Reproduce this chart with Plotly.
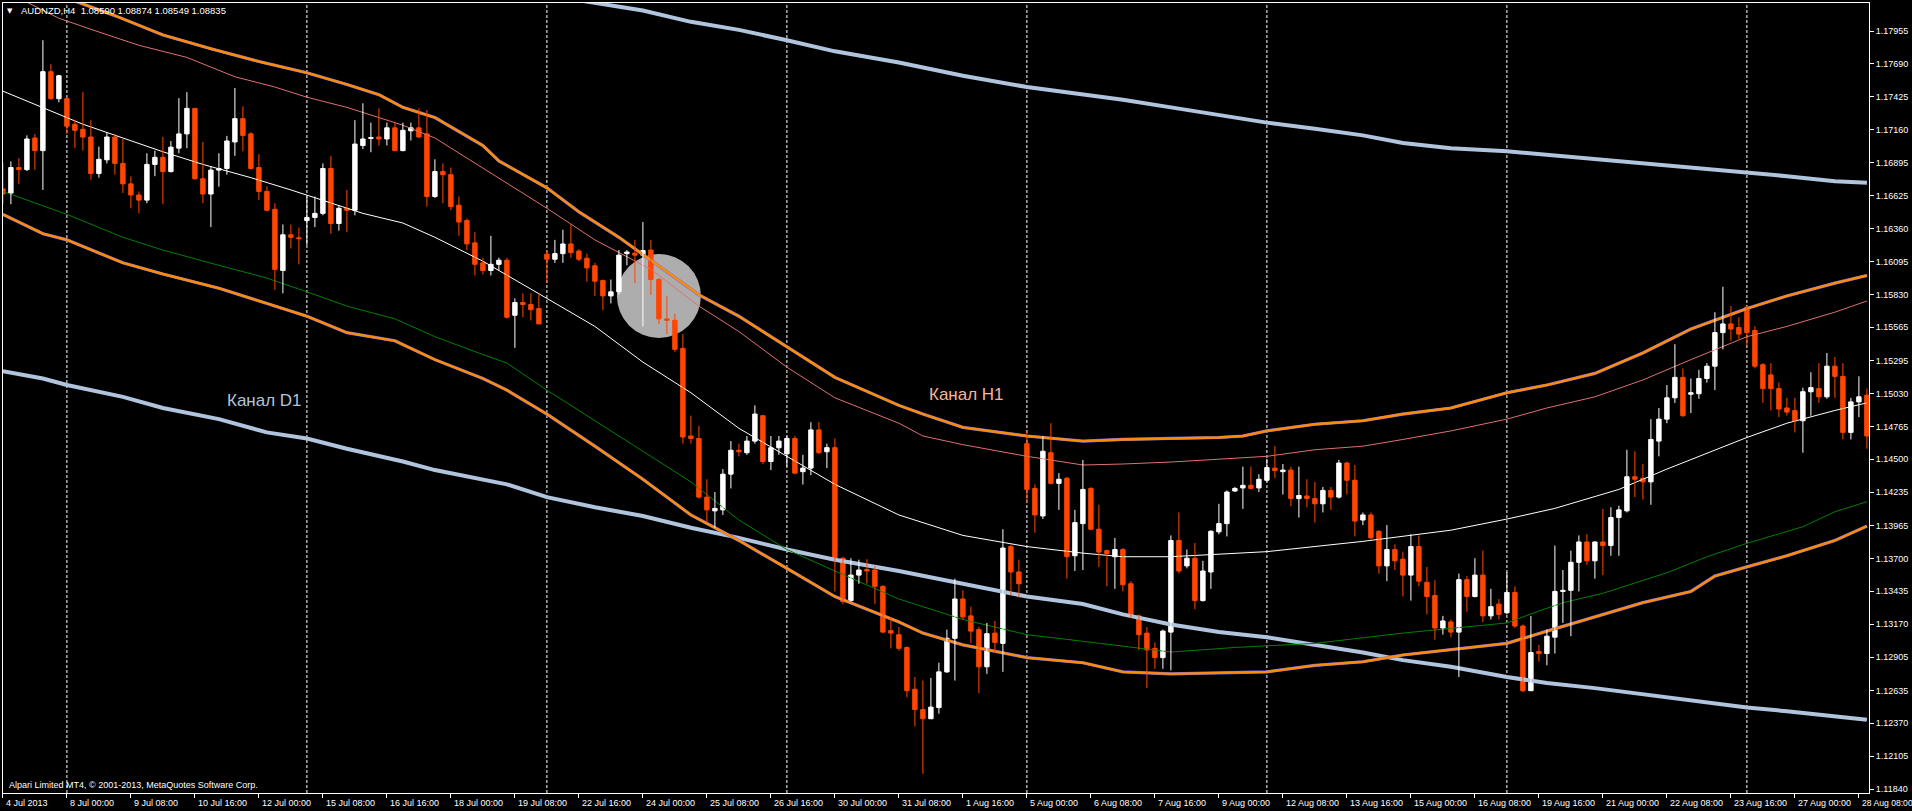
import plotly.graph_objects as go
from datetime import datetime, timedelta

# ---------------- data (AUDNZD, H4) ----------------
opens = [1.16681,1.16648,1.16854,1.16837,1.17092,1.16990,1.17627,1.17409,1.17409,1.17203,
1.17162,1.17100,1.16805,1.16916,1.17100,1.16887,1.16722,1.16632,1.16591,1.16879,
1.16936,1.16821,1.17010,1.17125,1.17331,1.16763,1.16640,1.16833,1.16846,1.17060,
1.17248,1.17125,1.16854,1.16661,1.16517,1.16023,1.16311,1.16287,1.16426,1.16451,
1.16484,1.16846,1.16402,1.16525,1.16509,1.17031,1.17088,1.17100,1.17084,1.17174,
1.16990,1.17150,1.17174,1.17125,1.16620,1.16821,1.16796,1.16550,1.16426,1.16246,
1.16085,1.16023,1.16073,1.16106,1.15662,1.15765,1.15749,1.15716,1.16155,1.16114,
1.16159,1.16237,1.16180,1.16122,1.16061,1.15942,1.15818,1.15851,1.16159,1.16163,
1.16147,1.16188,1.15950,1.15633,1.15621,1.15395,1.14688,1.14668,1.14195,1.14084,
1.14092,1.14380,1.14573,1.14553,1.14647,1.14852,1.14482,1.14593,1.14544,1.14668,
1.14400,1.14429,1.14737,1.14561,1.14594,1.13702,1.13360,1.13566,1.13611,1.13607,
1.13475,1.13118,1.13085,1.12982,1.12645,1.12481,1.12407,1.12497,1.12785,1.13056,
1.13373,1.13237,1.13126,1.12826,1.13098,1.13015,1.13796,1.13591,1.14626,1.14265,
1.14043,1.14553,1.14306,1.14347,1.13722,1.13981,1.14265,1.13936,1.13763,1.13714,
1.13772,1.13496,1.13237,1.13098,1.12975,1.12900,1.13106,1.13845,1.13640,1.13702,
1.13360,1.13591,1.13915,1.13981,1.14244,1.14269,1.14290,1.14269,1.14331,1.14429,
1.14400,1.14413,1.14183,1.14204,1.14183,1.14141,1.14249,1.14195,1.14470,1.14331,
1.14010,1.14051,1.13919,1.13640,1.13772,1.13694,1.13566,1.13796,1.13508,1.13402,
1.13139,1.13188,1.13106,1.13529,1.13393,1.13566,1.13237,1.13332,1.13262,1.13426,
1.13155,1.12633,1.12950,1.12933,1.13065,1.13434,1.13443,1.13669,1.13833,1.13681,
1.13833,1.13804,1.14030,1.14084,1.14359,1.14347,1.14318,1.14647,1.14824,1.14996,
1.15161,1.15025,1.15029,1.15152,1.15251,1.15522,1.15592,1.15563,1.15728,1.15539,
1.15263,1.15181,1.15070,1.14914,1.14893,1.14811,1.15045,1.15070,1.15004,1.15251,
1.15169,1.14717,1.14963,1.15017]
highs = [1.16895,1.16903,1.16928,1.17113,1.17125,1.17881,1.17688,1.17602,1.17421,1.17236,
1.17462,1.17236,1.17022,1.17140,1.17125,1.17084,1.16784,1.16661,1.16969,1.16990,
1.17100,1.17067,1.17413,1.17462,1.17331,1.17060,1.16866,1.16969,1.17109,1.17495,
1.17347,1.17140,1.16961,1.16702,1.16566,1.16394,1.16394,1.16369,1.16620,1.16620,
1.16887,1.16948,1.16550,1.16673,1.17236,1.17372,1.17216,1.17331,1.17216,1.17224,
1.17216,1.17216,1.17331,1.17318,1.16920,1.16887,1.16854,1.16620,1.16443,1.16332,
1.16126,1.16303,1.16126,1.16126,1.15798,1.15839,1.15839,1.15839,1.16188,1.16270,
1.16352,1.16394,1.16196,1.16159,1.16085,1.15950,1.15950,1.16188,1.16188,1.16270,
1.16414,1.16270,1.15962,1.15818,1.15674,1.15510,1.14852,1.14770,1.14339,1.14236,
1.14421,1.14647,1.14626,1.14688,1.14935,1.14852,1.14688,1.14688,1.14688,1.14688,
1.14536,1.14799,1.14799,1.14626,1.14668,1.13714,1.13702,1.13690,1.13694,1.13640,
1.13483,1.13229,1.13147,1.12990,1.12744,1.12715,1.12736,1.12859,1.13126,1.13537,
1.13443,1.13311,1.13147,1.13180,1.13196,1.13936,1.13813,1.13690,1.14729,1.14298,
1.14688,1.14791,1.14388,1.14359,1.14092,1.14495,1.14277,1.14133,1.13772,1.13866,
1.13784,1.13517,1.13249,1.13147,1.13023,1.13126,1.13886,1.14072,1.13772,1.13825,
1.13681,1.13928,1.14141,1.14249,1.14277,1.14441,1.14441,1.14380,1.14503,1.14606,
1.14462,1.14441,1.14441,1.14339,1.14318,1.14277,1.14277,1.14495,1.14482,1.14454,
1.14071,1.14071,1.13928,1.13969,1.13813,1.13755,1.13895,1.13886,1.13632,1.13525,
1.13237,1.13208,1.13578,1.13558,1.13702,1.13763,1.13455,1.13373,1.13591,1.13475,
1.13167,1.13237,1.13003,1.13126,1.13804,1.13607,1.13763,1.13886,1.13895,1.13838,
1.14100,1.14113,1.14125,1.14577,1.14565,1.14462,1.14824,1.14914,1.15099,1.15428,
1.15234,1.15152,1.15222,1.15276,1.15687,1.15892,1.15736,1.15646,1.15736,1.15572,
1.15276,1.15276,1.15119,1.14996,1.14996,1.15078,1.15202,1.15276,1.15358,1.15325,
1.15276,1.14996,1.15169,1.15070]
lows = [1.16558,1.16558,1.16722,1.16825,1.16837,1.16673,1.17401,1.17380,1.17125,1.17010,
1.16990,1.16755,1.16772,1.16887,1.16796,1.16648,1.16525,1.16484,1.16566,1.16784,
1.16558,1.16813,1.16969,1.17010,1.16755,1.16566,1.16373,1.16699,1.16796,1.16948,
1.16985,1.16837,1.16591,1.16500,1.15867,1.15839,1.16200,1.16073,1.16229,1.16373,
1.16468,1.16320,1.16344,1.16332,1.16468,1.17002,1.16977,1.17031,1.17031,1.16985,
1.16985,1.17072,1.17092,1.16538,1.16608,1.16566,1.16509,1.16303,1.16188,1.15983,
1.15991,1.15983,1.16023,1.15634,1.15399,1.15646,1.15621,1.15592,1.15921,1.16085,
1.16085,1.16126,1.16097,1.15933,1.15818,1.15703,1.15757,1.15827,1.16065,1.15921,
1.15572,1.15827,1.15592,1.15510,1.15366,1.14626,1.14626,1.14183,1.13989,1.13948,
1.14051,1.14265,1.14524,1.14536,1.14626,1.14462,1.14413,1.14536,1.14441,1.14380,
1.14297,1.14372,1.14544,1.14429,1.13434,1.13332,1.13352,1.13496,1.13496,1.13332,
1.13098,1.12975,1.12955,1.12580,1.12345,1.11963,1.12407,1.12448,1.12777,1.12715,
1.13208,1.13016,1.12613,1.12769,1.12941,1.12785,1.13402,1.13385,1.14154,1.13907,
1.14018,1.14298,1.14092,1.13537,1.13599,1.13607,1.13928,1.13632,1.13476,1.13455,
1.13434,1.13221,1.12962,1.12654,1.12810,1.12810,1.12797,1.13578,1.13620,1.13290,
1.13352,1.13455,1.13895,1.13878,1.14236,1.14100,1.14257,1.14236,1.14318,1.14347,
1.14216,1.14121,1.14030,1.14113,1.13989,1.14071,1.14092,1.14183,1.14216,1.13878,
1.13969,1.13854,1.13578,1.13517,1.13607,1.13393,1.13360,1.13476,1.13249,1.13044,
1.13085,1.13065,1.12744,1.13270,1.13385,1.13188,1.13208,1.13208,1.13249,1.13139,
1.12621,1.12633,1.12868,1.12838,1.12933,1.13180,1.13073,1.13434,1.13649,1.13537,
1.13566,1.13722,1.13722,1.14071,1.14195,1.14174,1.14133,1.14524,1.14791,1.14955,
1.14840,1.14873,1.14988,1.15119,1.15058,1.15387,1.15456,1.15469,1.15415,1.15234,
1.14955,1.14894,1.14840,1.14852,1.14717,1.14553,1.14852,1.14955,1.14988,1.14996,
1.14660,1.14660,1.14840,1.14585]
closes = [1.16640,1.16854,1.16837,1.17084,1.16990,1.17627,1.17409,1.17594,1.17187,1.17154,
1.17100,1.16805,1.16920,1.17100,1.16887,1.16722,1.16632,1.16591,1.16879,1.16936,
1.16821,1.17018,1.17125,1.17331,1.16763,1.16640,1.16833,1.16846,1.17068,1.17248,
1.17113,1.16846,1.16661,1.16509,1.16032,1.16311,1.16291,1.16279,1.16451,1.16484,
1.16846,1.16402,1.16525,1.16509,1.17043,1.17084,1.17096,1.17084,1.17174,1.16990,
1.17154,1.17174,1.17100,1.16620,1.16821,1.16796,1.16538,1.16414,1.16238,1.16073,
1.16023,1.16073,1.16106,1.15646,1.15765,1.15749,1.15707,1.15592,1.16114,1.16159,
1.16237,1.16167,1.16114,1.16044,1.15937,1.15818,1.15851,1.16147,1.16172,1.16147,
1.16184,1.15950,1.15633,1.15621,1.15387,1.14680,1.14668,1.14195,1.14092,1.14104,
1.14380,1.14573,1.14561,1.14647,1.14865,1.14482,1.14593,1.14647,1.14668,1.14388,
1.14429,1.14737,1.14553,1.14594,1.13702,1.13352,1.13566,1.13607,1.13599,1.13475,
1.13106,1.13098,1.12975,1.12633,1.12481,1.12407,1.12501,1.12785,1.13056,1.13373,
1.13229,1.13114,1.12826,1.13093,1.13023,1.13784,1.13591,1.13496,1.14257,1.14051,
1.14565,1.14306,1.14339,1.13714,1.13989,1.14257,1.13936,1.13751,1.13739,1.13772,
1.13488,1.13229,1.13085,1.12962,1.12900,1.13114,1.13845,1.13599,1.13702,1.13360,
1.13599,1.13919,1.13981,1.14236,1.14265,1.14290,1.14265,1.14339,1.14433,1.14409,
1.14413,1.14183,1.14208,1.14183,1.14141,1.14249,1.14195,1.14470,1.14331,1.14002,
1.14051,1.13866,1.13640,1.13772,1.13681,1.13566,1.13796,1.13517,1.13393,1.13139,
1.13196,1.13106,1.13529,1.13393,1.13566,1.13237,1.13311,1.13249,1.13426,1.13155,
1.12633,1.12941,1.12933,1.13073,1.13434,1.13443,1.13669,1.13833,1.13681,1.13833,
1.13804,1.14030,1.14092,1.14359,1.14339,1.14318,1.14660,1.14824,1.14996,1.15161,
1.14852,1.15037,1.15152,1.15251,1.15522,1.15592,1.15551,1.15510,1.15522,1.15251,
1.15070,1.15070,1.14906,1.14881,1.14811,1.15045,1.15078,1.15004,1.15251,1.15169,
1.14717,1.14963,1.15004,1.14688]

first_bar = datetime(2013, 7, 4, 16, 0)   # H4 bars, weekdays only

# Channel lines (bar index, price)
d1_upper_bar = [0,74,80,86,92,98,104,112,120,128,135,140,146,152,158,164,170,175,181,188,193,199,205,211,218,223,229,233]
d1_upper = [1.18950,1.18181,1.18120,1.18029,1.17964,1.17881,1.17791,1.17701,1.17594,1.17503,1.17442,1.17401,1.17339,1.17277,
            1.17216,1.17166,1.17113,1.17051,1.17010,1.16985,1.16957,1.16920,1.16887,1.16854,1.16813,1.16784,1.16743,1.16731]
d1_lower_bar = [0,5,8,15,20,27,33,38,43,50,54,60,63,68,74,80,86,92,98,104,112,120,128,135,140,146,152,158,164,170,175,181,188,193,199,205,211,218,223,229,233]
d1_lower = [1.15210,1.15152,1.15099,1.15004,1.14914,1.14824,1.14717,1.14668,1.14585,1.14482,1.14413,1.14339,1.14298,1.14195,
            1.14113,1.14043,1.13948,1.13866,1.13772,1.13690,1.13599,1.13496,1.13393,1.13332,1.13249,1.13167,1.13106,1.13065,
            1.13003,1.12941,1.12880,1.12826,1.12744,1.12695,1.12654,1.12604,1.12551,1.12497,1.12468,1.12427,1.12398]
h1_upper_bar = [0,14,20,26,32,38,43,47,50,54,60,62,68,72,77,81,87,92,98,104,112,115,120,128,135,140,146,152,155,158,164,170,175,181,188,193,199,205,211,218,223,229,233]
h1_upper = [1.18408,1.18079,1.17923,1.17812,1.17709,1.17618,1.17524,1.17442,1.17339,1.17257,1.17031,1.16907,1.16690,1.16496,
            1.16291,1.16106,1.15827,1.15654,1.15407,1.15161,1.14935,1.14865,1.14758,1.14688,1.14647,1.14660,1.14668,1.14676,
            1.14688,1.14729,1.14783,1.14811,1.14865,1.14914,1.15037,1.15099,1.15193,1.15358,1.15551,1.15716,1.15818,1.15921,1.15983]
h1_inner_up_bar = [0,7,12,17,23,29,34,38,43,50,54,60,68,74,81,87,92,98,104,112,115,120,128,135,140,146,158,164,170,175,181,188,193,199,205,211,218,223,229,233]
h1_inner_up = [1.18284,1.18058,1.17947,1.17840,1.17742,1.17586,1.17503,1.17421,1.17339,1.17195,1.17092,1.16846,1.16525,1.16270,
               1.16032,1.15736,1.15531,1.15243,1.14996,1.14791,1.14688,1.14618,1.14524,1.14454,1.14462,1.14478,1.14524,1.14577,
               1.14606,1.14660,1.14729,1.14824,1.14914,1.15004,1.15140,1.15304,1.15489,1.15572,1.15687,1.15777]
h1_mid_bar = [0,5,10,15,20,25,31,36,41,45,50,54,60,63,68,74,80,86,92,98,104,112,120,128,135,140,146,158,170,181,188,194,202,208,214,218,223,229,233]
h1_mid = [1.17470,1.17339,1.17203,1.17092,1.16981,1.16879,1.16772,1.16673,1.16566,1.16484,1.16406,1.16291,1.16098,1.15983,
          1.15798,1.15572,1.15284,1.15037,1.14750,1.14524,1.14298,1.14051,1.13886,1.13796,1.13743,1.13714,1.13714,1.13755,
          1.13838,1.13928,1.14018,1.14104,1.14257,1.14421,1.14577,1.14676,1.14791,1.14894,1.14955]
h1_inner_dn_bar = [0,8,15,20,27,33,38,43,49,54,60,63,68,74,80,86,92,98,104,112,120,128,135,140,146,154,164,175,188,192,195,200,204,208,213,218,225,229,233]
h1_inner_dn = [1.16661,1.16476,1.16291,1.16188,1.16065,1.15962,1.15851,1.15736,1.15633,1.15489,1.15345,1.15276,1.15058,1.14811,
               1.14565,1.14318,1.14010,1.13772,1.13599,1.13373,1.13208,1.13085,1.13032,1.12990,1.12945,1.12982,1.13015,1.13098,
               1.13180,1.13276,1.13343,1.13419,1.13500,1.13585,1.13714,1.13822,1.13956,1.14077,1.14158]
h1_lower_bar = [0,5,8,15,20,27,33,38,43,49,54,60,63,68,74,80,86,92,98,104,112,115,120,128,135,140,146,152,158,164,170,175,181,188,193,199,205,211,214,218,223,229,233]
h1_lower = [1.16476,1.16320,1.16270,1.16085,1.15995,1.15880,1.15757,1.15654,1.15522,1.15456,1.15304,1.15152,1.15058,1.14865,
            1.14606,1.14339,1.14051,1.13845,1.13620,1.13393,1.13188,1.13098,1.13003,1.12900,1.12859,1.12785,1.12769,1.12777,
            1.12785,1.12838,1.12867,1.12921,1.12962,1.13015,1.13114,1.13229,1.13344,1.13434,1.13558,1.13632,1.13722,1.13845,1.13961]

price_ticks = ["1.17955","1.17690","1.17425","1.17160","1.16895","1.16625","1.16360","1.16095","1.15830","1.15565",
               "1.15295","1.15030","1.14765","1.14500","1.14235","1.13965","1.13700","1.13435","1.13170","1.12905",
               "1.12635","1.12370","1.12105","1.11840"]

title_text = "AUDNZD,H4  1.08590 1.08874 1.08549 1.08835"
copyright_text = "Alpari Limited MT4, \u00a9 2001-2013, MetaQuotes Software Corp."

# ---------------- derived ----------------
n = len(opens)
times = []
t = first_bar
while len(times) < n:
    if t.weekday() < 5:
        times.append(t)
    t += timedelta(hours=4)

tick_bars = list(range(0, n, 8))
tick_labels = []
for b in tick_bars:
    tt = times[b]
    if b == 0:
        tick_labels.append(f"{tt.day} {tt:%b %Y}")
    else:
        tick_labels.append(f"{tt.day} {tt:%b %H:%M}")
week_bars = [i for i, tt in enumerate(times) if tt.weekday() == 0 and tt.hour == 0]

FONT = "Liberation Sans, Arial, sans-serif"
BULL = "#ffffff"
BEAR = "#ff4500"
X_RANGE = [0.0125, 233.2625]

fig = go.Figure()

def add_line(xs, ys, color, width):
    fig.add_trace(go.Scatter(x=xs, y=ys, mode="lines", line=dict(color=color, width=width),
                             hoverinfo="skip", showlegend=False))

add_line(d1_upper_bar, d1_upper, "#b0c4de", 4)
add_line(d1_lower_bar, d1_lower, "#b0c4de", 4)
add_line(h1_inner_dn_bar, h1_inner_dn, "#008000", 1)
add_line(h1_inner_up_bar, h1_inner_up, "#e07070", 1)
add_line(h1_mid_bar, h1_mid, "#ffffff", 1)
for xs, ys in ((h1_upper_bar, h1_upper), (h1_lower_bar, h1_lower)):
    add_line(xs, ys, "#7b68ee", 3.2)
    add_line(xs, ys, "#ff8c00", 2.4)

# candles
for is_bull, col in ((True, BULL), (False, BEAR)):
    idx = [i for i in range(n) if (closes[i] >= opens[i]) == is_bull]
    wx, wy = [], []
    for i in idx:
        wx += [i, i, None]
        wy += [lows[i], highs[i], None]
    fig.add_trace(go.Scatter(x=wx, y=wy, mode="lines", line=dict(color=col, width=1),
                             hoverinfo="skip", showlegend=False))
    fig.add_trace(go.Bar(
        x=idx,
        base=[min(opens[i], closes[i]) for i in idx],
        y=[max(abs(closes[i] - opens[i]), 0.00002) for i in idx],
        width=0.55,
        marker=dict(color=col, line=dict(color=col, width=1)),
        hoverinfo="skip", showlegend=False))

shapes = []
for b in week_bars:
    shapes.append(dict(type="line", xref="x", yref="paper", x0=b, x1=b, y0=0, y1=1,
                       line=dict(color="#ffffff", width=1, dash="3px,2px"), layer="below"))
shapes.append(dict(type="circle", xref="x", yref="y", xsizemode="pixel", ysizemode="pixel",
                   xanchor=82.0, yanchor=1.15817, x0=-42, x1=42, y0=-42, y1=42,
                   fillcolor="#adadad", line=dict(width=0), layer="below"))

annotations = []
span = X_RANGE[1] - X_RANGE[0]
for b, lab in zip(tick_bars, tick_labels):
    annotations.append(dict(x=(b - X_RANGE[0]) / span, y=0, xref="paper", yref="paper",
                            yshift=-10, xshift=1,
                            text=lab, showarrow=False, xanchor="left", yanchor="middle",
                            font=dict(family=FONT, size=9 if b < tick_bars[-1] else 8.6, color="#ffffff")))
annotations += [
    dict(x=0.0037, y=0.9905, xref="paper", yref="paper", text="\u25bc", showarrow=False,
         xanchor="center", yanchor="middle", font=dict(family="DejaVu Sans", size=7, color="#ffffff")),
    dict(x=0.0086, y=0.9905, xref="paper", yref="paper", text=title_text, showarrow=False,
         xanchor="left", yanchor="middle", font=dict(family=FONT, size=9.5, color="#ffffff")),
    dict(x=0.0024, y=0.0105, xref="paper", yref="paper", text=copyright_text, showarrow=False,
         xanchor="left", yanchor="middle", font=dict(family=FONT, size=9, color="#ffffff")),
    dict(x=32.7, y=1.14978, xref="x", yref="y", text="Канал D1", showarrow=False,
         xanchor="center", yanchor="middle", font=dict(family=FONT, size=17, color="#b0c4de")),
    dict(x=120.5, y=1.15019, xref="x", yref="y", text="Канал H1", showarrow=False,
         xanchor="center", yanchor="middle", font=dict(family=FONT, size=17, color="#f7b49c")),
]

fig.update_layout(
    width=1912, height=811,
    margin=dict(l=3, r=43, t=3, b=18),
    paper_bgcolor="#000000", plot_bgcolor="#000000",
    showlegend=False, barmode="overlay",
    shapes=shapes, annotations=annotations,
    xaxis=dict(range=X_RANGE, showgrid=False, zeroline=False,
               tickvals=tick_bars, showticklabels=False, ticks="outside", ticklen=4,
               tickcolor="#ffffff", showline=True, linecolor="#ffffff", linewidth=1, mirror=True,
               fixedrange=True),
    yaxis=dict(range=[1.11808, 1.18181], side="right", showgrid=False, zeroline=False,
               tickvals=[float(v) for v in price_ticks], ticktext=price_ticks,
               ticks="outside", ticklen=4, tickcolor="#ffffff",
               tickfont=dict(family=FONT, size=9, color="#ffffff"),
               showline=True, linecolor="#ffffff", linewidth=1, mirror=True, fixedrange=True),
)

fig.write_html("out.html", config={"displayModeBar": False},
               post_script="document.body.style.margin='0';")
